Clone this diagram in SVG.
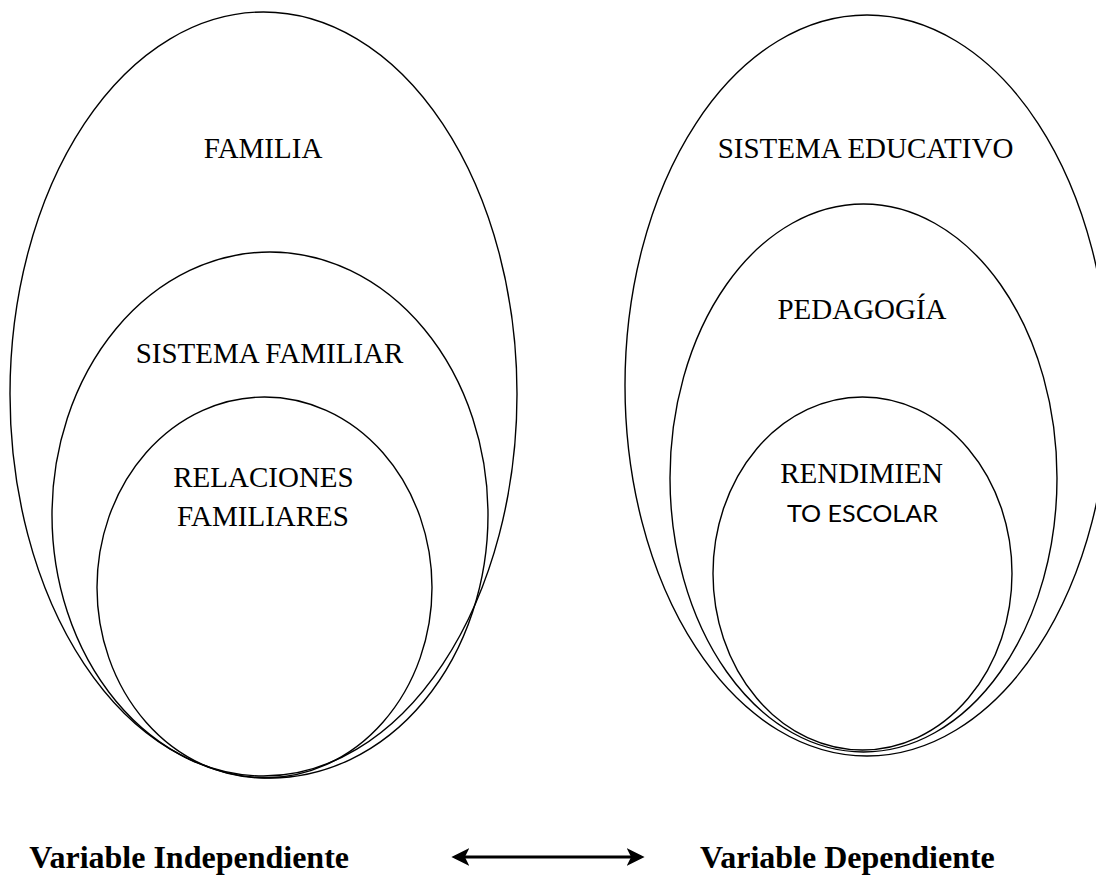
<svg xmlns="http://www.w3.org/2000/svg" width="1096" height="877" viewBox="0 0 1096 877">
<style>
.e{fill:none;stroke:#000;stroke-width:1.4}
.t{font-family:"Liberation Serif","Times New Roman",serif;font-size:29px;fill:#000;text-anchor:middle}
.s{font-family:Lato,"Liberation Sans",sans-serif;font-size:24px;fill:#000;text-anchor:middle}
.b{font-family:"Liberation Serif","Times New Roman",serif;font-size:32px;font-weight:bold;fill:#000}
</style>
<defs>
<marker id="ah" viewBox="0 0 10 10" refX="8" refY="5" markerWidth="6" markerHeight="6" orient="auto-start-reverse" markerUnits="strokeWidth">
<path d="M0,0 L10,5 L0,10 L2.5,5 Z" fill="#000"/>
</marker>
</defs>
<rect width="1096" height="877" fill="#fff"/>
<g id="familia">
<ellipse class="e" cx="263.5" cy="394" rx="253.5" ry="382"/>
<text class="t" x="263" y="158">FAMILIA</text>
</g>
<g id="sistema-familiar">
<ellipse class="e" cx="270" cy="515" rx="218" ry="263"/>
<text class="t" x="269.5" y="363">SISTEMA FAMILIAR</text>
</g>
<g id="relaciones-familiares">
<ellipse class="e" cx="264.5" cy="587.5" rx="167.5" ry="190.5"/>
<text class="t" x="263.5" y="487">RELACIONES</text>
<text class="t" x="263" y="526">FAMILIARES</text>
</g>
<g id="sistema-educativo">
<ellipse class="e" cx="867" cy="385.5" rx="242" ry="370.5"/>
<text class="t" x="865.5" y="158">SISTEMA EDUCATIVO</text>
</g>
<g id="pedagogia">
<ellipse class="e" cx="863.5" cy="478" rx="193.5" ry="274"/>
<text class="t" x="862" y="319">PEDAGOGÍA</text>
</g>
<g id="rendimiento-escolar">
<ellipse class="e" cx="862.5" cy="573.5" rx="149.5" ry="176.5"/>
<text class="t" x="861.5" y="483">RENDIMIEN</text>
<text class="s" x="862.5" y="522" textLength="151" lengthAdjust="spacingAndGlyphs">TO ESCOLAR</text>
</g>
<g id="variable-independiente">
<text class="b" x="349" y="868" text-anchor="end">Variable Independiente</text>
</g>
<g id="variable-dependiente">
<text class="b" x="700" y="868">Variable Dependiente</text>
</g>
<g id="connectors">
<line x1="455" y1="857" x2="641" y2="857" stroke="#000" stroke-width="3" marker-start="url(#ah)" marker-end="url(#ah)"/>
</g>
</svg>
